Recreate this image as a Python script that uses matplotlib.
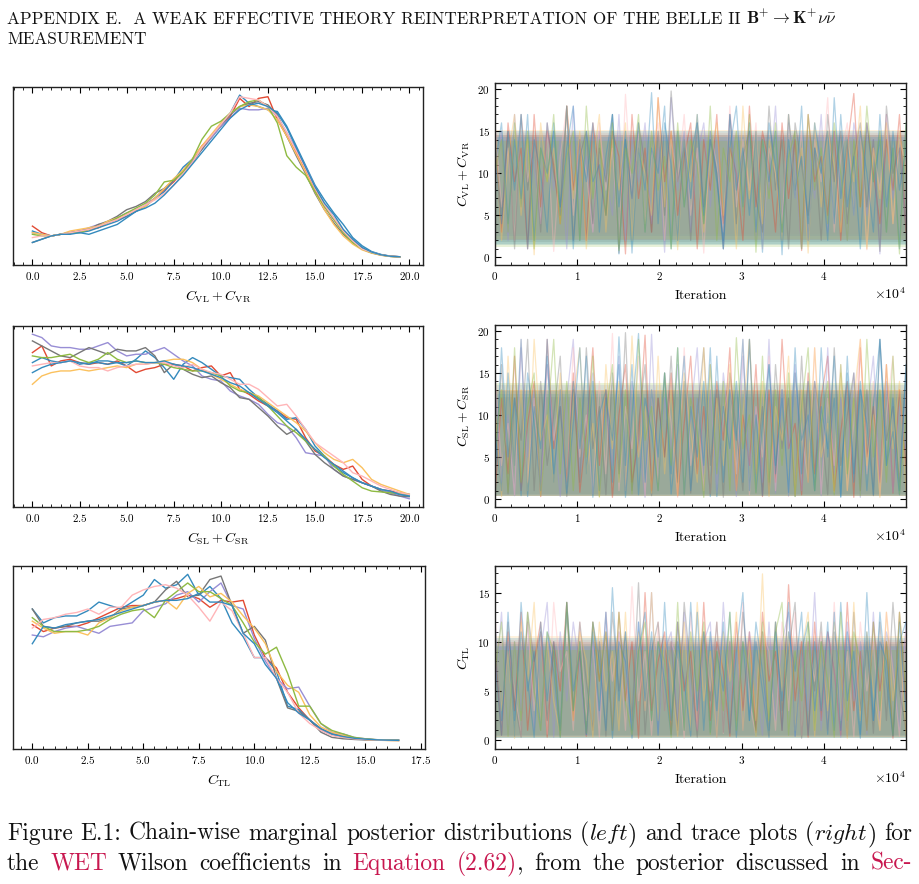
import numpy as np
import matplotlib
matplotlib.use("Agg")
import matplotlib.pyplot as plt
from matplotlib.ticker import MultipleLocator

plt.rcParams.update({
    "font.family": "serif",
    "font.serif": ["cmr10", "DejaVu Serif"],
    "mathtext.fontset": "cm",
    "axes.formatter.use_mathtext": True,
    "axes.unicode_minus": False,
})

# ---------------- data ----------------
chain_colors = ["#E24A33", "#348ABD", "#988ED5", "#777777", "#FBC15E", "#8EBA42", "#FFB5B8", "#348ABD"]
chain_names = ["red", "blue", "purple", "gray", "yellow", "green", "pink", "blue2"]
band_order = ["red", "purple", "pink", "gray", "yellow", "blue", "blue2", "green"]

param_labels = [r"$C_{\rm VL} + C_{\rm VR}$", r"$C_{\rm SL} + C_{\rm SR}$", r"$C_{\rm TL}$"]

# marginal posterior curves (relative density), grid step 0.5
grid_step = 0.5
kde1 = {
    "red":    [19,15,13,14,15,16,17,18,21,23,25,28,32,36,41,46,53,60,68,74,80,86,97,92,97,98,84,74,64,53,41,31,23,16,10,5,3,1.5,0.6,0.3],
    "blue":   [16,14,13,14,15,15,16,18,20,22,25,28,31,36,40,47,55,60,66,73,80,88,99,94,92,90,89,80,68,56,44,35,27,20,12,7,3.5,1.7,0.7,0.3],
    "purple": [15,14,13,14,15,16,18,20,21,24,27,29,32,36,42,47,52,59,66,73,80,85,91,90,90,91,86,76,66,55,43,32,24,16,10,5.5,3,1.5,0.6,0.3],
    "gray":   [9,11,13,14,15,16,17,20,22,25,29,31,34,39,42,47,52,58,66,74,81,87,92,94,95,93,87,74,62,51,39,29,21,14,9,5,2.7,1.3,0.5,0.2],
    "yellow": [15,14,13,14,16,17,18,19,22,24,26,29,31,36,42,48,53,60,68,75,82,88,92,93,92,90,84,74,63,52,40,29,20,13,8,4.5,2.5,1.2,0.5,0.2],
    "green":  [14,13,13,14,15,15,17,19,21,24,27,30,33,38,46,47,52,60,72,80,83,88,92,95,96,92,82,62,55,50,40,31,23,15,9,5,2.8,1.4,0.5,0.3],
    "pink":   [12,13,13,14,15,16,17,19,21,23,26,29,32,35,39,44,51,58,67,74,81,88,98,97,96,92,86,76,65,54,42,32,24,16,10,5,3,1.4,0.6,0.3],
    "blue2":  [9,11,13,14,14,15,14,16,18,20,24,28,30,33,38,44,50,57,64,71,78,85,90,93,94,92,88,79,67,55,43,33,26,17,11,6,3.2,1.5,0.6,0.3],
}
kde2 = {
    "red":    [102,106,94,97,98,96,95,96,95,97,94,90,92,93,95,95,94,91,93,94,88,90,80,77,73,70,67,63,62,51,43,40,35,32,34,26,22,20,19,18,17],
    "blue":   [96,99,97,96,97,95,96,96,95,96,94,98,103,99,93,86,95,99,96,92,88,87,86,80,75,71,67,62,63,56,46,40,34,30,27,24,22,20,18,17,16],
    "purple": [113,111,106,105,105,104,104,106,108,103,100,101,101,103,105,101,97,94,88,86,85,79,76,74,71,65,60,58,51,42,41,40,32,28,26,24,22,20,18,16,14.4],
    "gray":   [109,106,103,100,99,102,105,103,101,104,103,103,105,100,90,95,92,89,87,88,84,81,75,74,69,64,58,53,56,49,41,36,32,28,26,24,22,19,17,16,15.6],
    "yellow": [83,88,90,91,91,92,91,92,93,94,93,95,95,96,97,98,98,96,92,89,86,83,80,78,76,72,68,64,60,55,48,42,38,36,38,33,26,23,21,19,17],
    "green":  [100,99,99,100,101,98,96,98,102,98,96,97,96,96,95,93,92,91,91,90,88,82,79,78,75,70,64,58,54,49,44,40,34,29,25,21,19,18.5,18,17.5,17],
    "pink":   [94,95,96,96,97,94,93,93,91,93,94,95,95,96,96,94,93,95,92,90,89,86,83,83,80,75,70,71,64,56,48,44,40,36,30,28,25,22,20,18,17],
    "blue2":  [90,93,95,96,97,96,95,97,97,96,96,97,96,96,97,95,94,93,91,89,87,84,82,78,74,70,66,61,56,50,44,39,35,31,27,24,22,20,19,17,16],
}
kde3 = {
    "red":    [67,63,65,66,66,68,71,74,77,78,78,80,81,82,84,82,77,81,80,81,61,48,42,28,19,12,7,4,3,1.5,1,0.6,0.4,0.3],
    "blue":   [76,68,71,72,72,75,80,78,76,80,84,93,88,90,96,84,89,82,68,60,48,48,40,20,18,12,6,3.5,2,1.2,0.8,0.6,0.5,0.4],
    "purple": [61,60,63,65,66,64,62,66,67,68,75,77,79,84,86,80,86,91,78,76,59,46,36,30,31,20,10,5,4,2,1.2,0.7,0.4,0.3],
    "gray":   [76,66,65,66,68,69,69,71,76,77,78,80,87,92,83,84,93,95,78,62,66,58,36,19,17,12,5,2,1.2,0.8,0.5,0.4,0.3,0.2],
    "yellow": [69,65,62,63,63,61,68,71,75,77,78,80,81,76,85,89,83,85,80,72,65,56,40,32,28,15,8,5,3,1.6,0.8,0.4,0.2,0.1],
    "green":  [71,66,63,63,63,64,66,70,73,75,76,71,81,86,91,86,86,82,78,68,57,50,54,39,20,20,10,6,4,2,1.2,0.7,0.4,0.3],
    "pink":   [65,70,71,73,74,76,73,77,77,84,87,89,90,88,84,77,69,80,75,62,48,48,36,28,16,10,6,3,2,1.2,0.8,0.5,0.3,0.2],
    "blue2":  [56,66,65,67,68,69,70,72,74,76,78,80,81,81,82,85,80,80,78,62,56,44,36,22,16,12,7,4,2.5,1.5,1,0.6,0.4,0.3],
}

# trace samples (thinned), iterations 0 .. 49999
n_iter = 49999
tr1 = {
    "red":    [14,3,16,9,13,1,17,6,15,11,4,18,8,14,2,16,10,5,15,12,0.4,17,7,13,3,19,9,15,5,12,16,1,14,8,17,4,13,10,2,18,6,15,11,3,16,7,14,0.8,17,9,12,5,15,2,13,19.5,6,16,10,4,14,8,17,3],
    "blue":   [11,16,4,14,7,17,2,13,10,15,5,18,1,14,9,16,3,12,17,6,15,0.5,13,8,19.6,4,16,11,2,14,7,17,5,15,10,1,13,18,6,16,3,14,9,15,0.3,17,8,12,4,16,11,2,19,7,14,5,15,10,3,17,6,13,1,16],
    "purple": [9,15,2,17,6,13,11,4,16,8,14,1,18,7,12,3,15,10,5,17,2,14,9,16,4,13,0.6,19,8,15,3,12,16,6,14,1,17,10,5,15,2,13,8,18,4,16,11,1,14,7,17,3,15,9,2,16,12,5,14,0.4,17,7,13,4],
    "gray":   [13,5,15,1,17,8,14,3,16,10,6,18,2,12,15,4,13,9,17,0.5,14,7,16,11,3,15,5,19.8,9,13,2,16,6,14,10,1,17,4,12,15,7,3,18,8,14,1,16,11,5,13,2,17,9,15,4,12,16,6,14,0.7,18,10,13,3],
    "yellow": [15,2,12,17,5,14,0.3,16,9,13,4,18,7,15,1,11,17,3,14,8,16,2,13,10,5,19,6,15,0.9,14,9,17,3,12,16,5,13,1,18,7,15,4,14,10,2,17,8,13,0.5,16,6,15,11,3,14,9,18,1,13,7,16,4,15,10],
    "green":  [10,14,3,16,6,15,1,13,9,17,4,12,15,2,18,7,14,5,16,0.8,13,10,17,3,15,8,12,1,16,6,14,11,4,18,2,13,9,15,5,17,0.6,14,7,16,3,12,15,1,17,8,13,4,16,10,2,14,6,18,9,15,3,13,0.4,16],
    "pink":   [16,6,13,2,17,9,14,4,15,0.7,12,18,5,14,10,3,16,8,13,1,19.4,7,15,4,12,16,2,14,9,17,5,13,0.5,15,11,3,18,6,14,8,16,1,13,10,4,17,7,15,2,14,9,19,3,12,16,5,15,0.9,13,8,17,4,14,11],
    "blue2":  [12,4,15,8,17,1,14,10,3,16,6,13,18,2,15,9,11,5,17,0.4,14,7,16,3,13,10,18,1,15,6,12,16,4,14,9,2,17,8,13,5,15,0.6,16,11,3,14,7,18,2,13,10,15,4,17,6,12,1,16,9,14,3,15,8,13],
}
tr2 = {
    "red":    [0.5,12,3,17,1,9,14,0.3,19,6,11,2,15,0.8,8,18,4,13,0.2,10,16,2,7,19.5,1,12,5,15,0.4,9,17,3,11,0.6,14,7,18,1,10,4,16,0.3,13,2,19,6,9,0.5,15,3,12,17,1,8,14,0.2,18,5,11,2,16,0.7,13,4],
    "blue":   [8,1,15,4,19,0.3,11,6,17,2,13,0.5,9,18,3,14,1,12,7,16,0.2,10,19.7,2,13,5,15,0.6,8,17,1,12,4,18,0.3,11,6,14,2,19,0.8,9,16,3,13,0.4,15,7,10,1,18,5,12,0.2,17,3,14,1,11,19,4,8,0.5,15],
    "purple": [14,2,10,0.4,18,5,13,1,16,8,0.3,12,19,3,9,15,0.6,11,4,17,1,14,7,0.2,19.6,2,12,6,16,0.5,10,18,3,13,1,15,8,0.3,17,4,11,2,19,0.7,13,6,16,1,9,14,0.4,18,3,12,5,15,0.2,10,17,2,14,0.8,11,6],
    "gray":   [3,16,0.6,12,7,19,1,14,4,10,17,0.3,13,2,18,6,11,0.5,15,3,19.8,1,9,16,0.4,12,5,17,2,14,0.7,10,18,4,13,0.2,15,8,1,19,3,11,0.6,16,6,12,0.3,17,2,14,9,0.5,18,4,10,15,1,13,0.4,19,7,11,2,16],
    "yellow": [11,0.3,17,4,13,1,19,7,10,2,15,0.5,12,18,3,9,0.2,16,6,14,1,19.4,5,11,0.7,17,3,13,0.4,15,8,2,18,0.6,12,4,16,1,10,19,3,14,0.3,11,7,17,0.5,13,2,18,5,9,0.8,15,1,12,19,4,10,0.2,16,6,14,1],
    "green":  [6,13,0.8,18,2,11,15,0.4,9,19,3,14,1,12,5,17,0.3,10,16,2,13,0.6,19,7,11,1,15,4,18,0.5,12,8,0.2,16,3,14,1,19.2,6,10,0.7,17,2,13,4,15,0.3,11,18,1,9,14,0.5,16,3,12,0.4,19,5,13,2,17,0.6,10],
    "pink":   [15,4,9,0.5,19,2,12,0.3,16,7,13,1,18,5,10,0.6,14,3,19.7,1,11,6,17,0.4,13,2,15,9,0.2,18,4,12,1,16,0.7,10,14,3,19,0.5,11,5,17,1,13,0.3,15,8,2,18,0.6,12,4,16,1,9,19,3,14,0.4,10,17,2,13],
    "blue2":  [2,18,5,12,0.4,15,9,1,19,3,11,0.7,14,6,17,0.2,10,13,2,19.3,4,16,0.5,12,8,1,15,3,18,0.6,11,5,14,0.3,17,2,13,7,19,1,10,0.4,16,4,12,0.8,18,3,14,1,11,6,17,0.3,15,2,13,9,0.5,19,4,12,1,16],
}
tr3 = {
    "red":    [9,0.5,11,3,13,1,8,12,0.3,10,5,14,2,9,0.4,12,6,11,1,13,4,10,0.2,15,3,8,11,0.6,12,5,9,1,14,2,10,7,0.4,12,3,11,0.8,13,6,9,1,15.8,4,10,0.3,12,2,11,7,0.5,14,3,9,1,12,5,10,0.2,13,4],
    "blue":   [12,2,10,0.4,14,5,9,1,11,7,0.3,13,3,10,0.6,12,8,1,15.5,4,11,0.2,9,13,2,10,6,0.5,12,1,14,3,11,0.8,9,5,13,0.3,10,2,12,7,1,11,4,14,0.4,9,12,3,10,0.6,13,1,11,6,0.2,15,2,10,8,0.5,12,3],
    "purple": [5,13,0.6,10,3,12,1,9,14,0.3,11,4,12,7,0.5,10,2,13,1,11,8,0.4,12,3,15,0.7,9,11,2,13,5,1,10,12,0.3,14,4,9,1,11,6,0.5,12,2,10,13,0.4,9,3,15,1,11,7,0.3,12,4,10,0.6,13,2,11,8,1,12],
    "gray":   [10,1,12,4,0.3,13,8,11,2,9,0.5,14,3,12,6,1,10,0.4,13,5,11,2,16,0.6,9,12,3,10,1,14,7,0.3,11,4,12,0.8,10,2,13,6,1,11,0.5,12,3,9,14,0.2,10,5,12,1,11,7,0.4,13,3,10,0.7,12,2,14,5,1],
    "yellow": [11,3,9,0.2,12,6,14,1,10,4,0.5,13,2,11,8,0.3,12,5,9,1,13,0.6,11,3,15,2,10,7,0.4,12,1,14,4,9,0.3,11,6,13,1,10,2,16.9,0.5,12,5,11,1,9,13,0.4,10,3,12,7,0.2,14,2,11,5,1,13,4,10,0.6],
    "green":  [7,12,0.4,10,2,13,5,1,11,9,0.3,14,3,10,0.7,12,6,11,1,13,4,0.5,9,12,2,10,8,0.3,14,1,11,5,12,0.6,9,3,13,1,10,7,0.4,12,2,11,14,0.5,9,4,12,1,10,6,0.3,13,2,11,8,1,12,3,10,0.5,13,5],
    "pink":   [13,1,10,5,0.4,12,3,11,0.6,14,7,9,1,12,2,10,0.3,13,6,11,1,15.6,4,9,0.5,12,3,10,8,0.2,13,1,11,5,12,0.7,10,2,14,4,0.4,11,9,1,12,3,13,0.5,10,6,11,1,14,2,9,0.3,12,5,10,1,13,7,0.4,11],
    "blue2":  [8,0.5,13,2,11,6,0.3,12,4,10,1,14,5,9,0.6,11,3,13,0.2,10,8,1,12,4,11,0.5,14,2,10,6,0.4,13,1,11,3,12,0.7,9,15,2,10,5,0.3,12,1,11,7,13,0.5,10,3,12,1,14,4,9,0.6,11,2,13,6,0.4,10,12],
}

# dense central range covered by each chain's trace (lo, hi), per panel
core1_lo = {"red": 2.0, "blue": 1.5, "purple": 2.5, "gray": 1.8, "yellow": 2.2, "green": 1.2, "pink": 2.8, "blue2": 1.6}
core1_hi = {"red": 14.5, "blue": 15.0, "purple": 14.0, "gray": 14.6, "yellow": 15.2, "green": 13.8, "pink": 14.8, "blue2": 14.3}
core2_lo = {"red": 0.4, "blue": 0.5, "purple": 0.3, "gray": 0.6, "yellow": 0.4, "green": 0.3, "pink": 0.5, "blue2": 0.3}
core2_hi = {"red": 13.0, "blue": 12.5, "purple": 13.6, "gray": 12.2, "yellow": 13.0, "green": 13.8, "pink": 12.0, "blue2": 12.8}
core3_lo = {"red": 0.3, "blue": 0.4, "purple": 0.2, "gray": 0.5, "yellow": 0.3, "green": 0.2, "pink": 0.4, "blue2": 0.2}
core3_hi = {"red": 10.0, "blue": 10.4, "purple": 9.5, "gray": 9.8, "yellow": 10.6, "green": 9.2, "pink": 10.2, "blue2": 9.6}

left_xlims = [(-1.03, 20.73), (-1.03, 20.73), (-0.87, 17.69)]
right_ylims = [(-0.92, 20.75), (-0.95, 20.71), (-0.9, 17.7)]

header_text = "APPENDIX E.  A WEAK EFFECTIVE THEORY REINTERPRETATION OF THE BELLE II"
header_math = r"$\mathbf{B^{+}\rightarrow K^{+}\nu\bar{\nu}}$"
header_line2 = "MEASUREMENT"
link_color = "#C8174F"

# ---------------- figure ----------------
W, H = 919, 884
fig = plt.figure(figsize=(W / 100, H / 100), dpi=100)


def rect(x0, y0, x1, y1):
    return [x0 / W, 1 - y1 / H, (x1 - x0) / W, (y1 - y0) / H]


left_boxes = [(13, 87, 423, 265), (13, 326, 423, 507), (13, 566, 425, 749)]
right_boxes = [(495, 83, 906, 265), (495, 325, 906, 507), (495, 566, 906, 749)]

kdes = [kde1, kde2, kde3]
traces = [tr1, tr2, tr3]
cores = [(core1_lo, core1_hi), (core2_lo, core2_hi), (core3_lo, core3_hi)]
col_of = dict(zip(chain_names, chain_colors))

for i in range(3):
    # left: marginal posteriors
    ax = fig.add_axes(rect(*left_boxes[i]))
    for name, col in zip(chain_names, chain_colors):
        vals = kdes[i][name]
        x = np.arange(len(vals)) * grid_step
        ax.plot(x, vals, color=col, lw=1.0)
    ax.set_xlim(*left_xlims[i])
    ax.set_yticks([])
    ax.xaxis.set_major_locator(MultipleLocator(2.5))
    ax.xaxis.set_minor_locator(MultipleLocator(0.5))
    ax.tick_params(axis="x", which="both", direction="in", top=True, bottom=True, labelsize=8)
    ax.tick_params(axis="x", which="major", length=4, width=0.8)
    ax.tick_params(axis="x", which="minor", length=2, width=0.6)
    ax.set_xlabel(param_labels[i], fontsize=10, labelpad=5)
    for s in ax.spines.values():
        s.set_linewidth(1.0)
        s.set_color("#222222")

    # right: traces
    ax = fig.add_axes(rect(*right_boxes[i]))
    lo, hi = cores[i]
    for name in band_order:
        ax.axhspan(lo[name], hi[name], color=col_of[name], alpha=0.2, lw=0)
    for name in band_order:
        vals = traces[i][name]
        x = np.linspace(0, n_iter, len(vals))
        ax.plot(x, vals, color=col_of[name], lw=0.9, alpha=0.38)
    ax.set_xlim(0, n_iter)
    ax.set_ylim(*right_ylims[i])
    ax.xaxis.set_major_locator(MultipleLocator(10000))
    ax.xaxis.set_minor_locator(MultipleLocator(2000))
    ax.yaxis.set_major_locator(MultipleLocator(5))
    ax.yaxis.set_minor_locator(MultipleLocator(1))
    ax.ticklabel_format(axis="x", style="sci", scilimits=(0, 0), useMathText=True)
    ax.tick_params(which="both", direction="in", top=True, right=True, labelsize=8)
    ax.tick_params(which="major", length=4, width=0.8)
    ax.tick_params(which="minor", length=2, width=0.6)
    ax.xaxis.get_offset_text().set_fontsize(10)
    ax.set_xlabel("Iteration", fontsize=10, labelpad=6)
    ax.set_ylabel(param_labels[i], fontsize=10)
    for s in ax.spines.values():
        s.set_linewidth(1.0)
        s.set_color("#222222")

# ---------------- page text ----------------
renderer = fig.canvas.get_renderer()


def make_tokens(tokens, y_px, fs):
    objs = []
    for tok in tokens:
        parts = []
        for s, col in tok:
            t = fig.text(0, 1 - y_px / H, s, color=col, fontsize=fs, va="baseline", ha="left")
            parts.append(t)
        objs.append(parts)
    return objs


def layout(objs, x0, x1):
    widths = [[t.get_window_extent(renderer).width for t in p] for p in objs]
    total = sum(sum(w) for w in widths)
    gap = (x1 - x0 - total) / (len(objs) - 1)
    x = x0
    for parts, ws in zip(objs, widths):
        for t, w in zip(parts, ws):
            t.set_x(x / W)
            x += w
        x += gap


k = "#111111"

# header (fit so the plain caps end near x=740 px)
ht = fig.text(7 / W, 1 - 24 / H, header_text, fontsize=10, color=k, va="baseline")
hw = ht.get_window_extent(renderer).width
hfs = 10 * (740 - 7) / hw
ht.set_fontsize(hfs)
hw = ht.get_window_extent(renderer).width
fig.text((7 + hw + 6) / W, 1 - 24 / H, header_math, fontsize=hfs, color=k, va="baseline")
fig.text(7 / W, 1 - 44 / H, header_line2, fontsize=hfs, color=k, va="baseline")

line1 = [[("Figure", k)], [("E.1:", k)], [("Chain-wise", k)], [("marginal", k)], [("posterior", k)],
         [("distributions", k)], [("(", k), (r"$\mathit{left}$", k), (")", k)], [("and", k)],
         [("trace", k)], [("plots", k)], [("(", k), (r"$\mathit{right}$", k), (")", k)], [("for", k)]]
line2 = [[("the", k)], [("WET", link_color)], [("Wilson", k)], [("coefficients", k)], [("in", k)],
         [("Equation", link_color)], [("(2.62)", link_color), (",", k)], [("from", k)], [("the", k)],
         [("posterior", k)], [("discussed", k)], [("in", k)], [("Sec-", link_color)]]

fs0 = 14
o1 = make_tokens(line1, 840, fs0)
o2 = make_tokens(line2, 870, fs0)
sumw = sum(t.get_window_extent(renderer).width for p in o1 for t in p)
space_per_pt = 0.333 * 100 / 72
fs = 905 / (sumw / fs0 + (len(line1) - 1) * space_per_pt)
for p in o1 + o2:
    for t in p:
        t.set_fontsize(fs)
layout(o1, 7, 912)
layout(o2, 7, 912)

fig.savefig("out.png", dpi=100)
